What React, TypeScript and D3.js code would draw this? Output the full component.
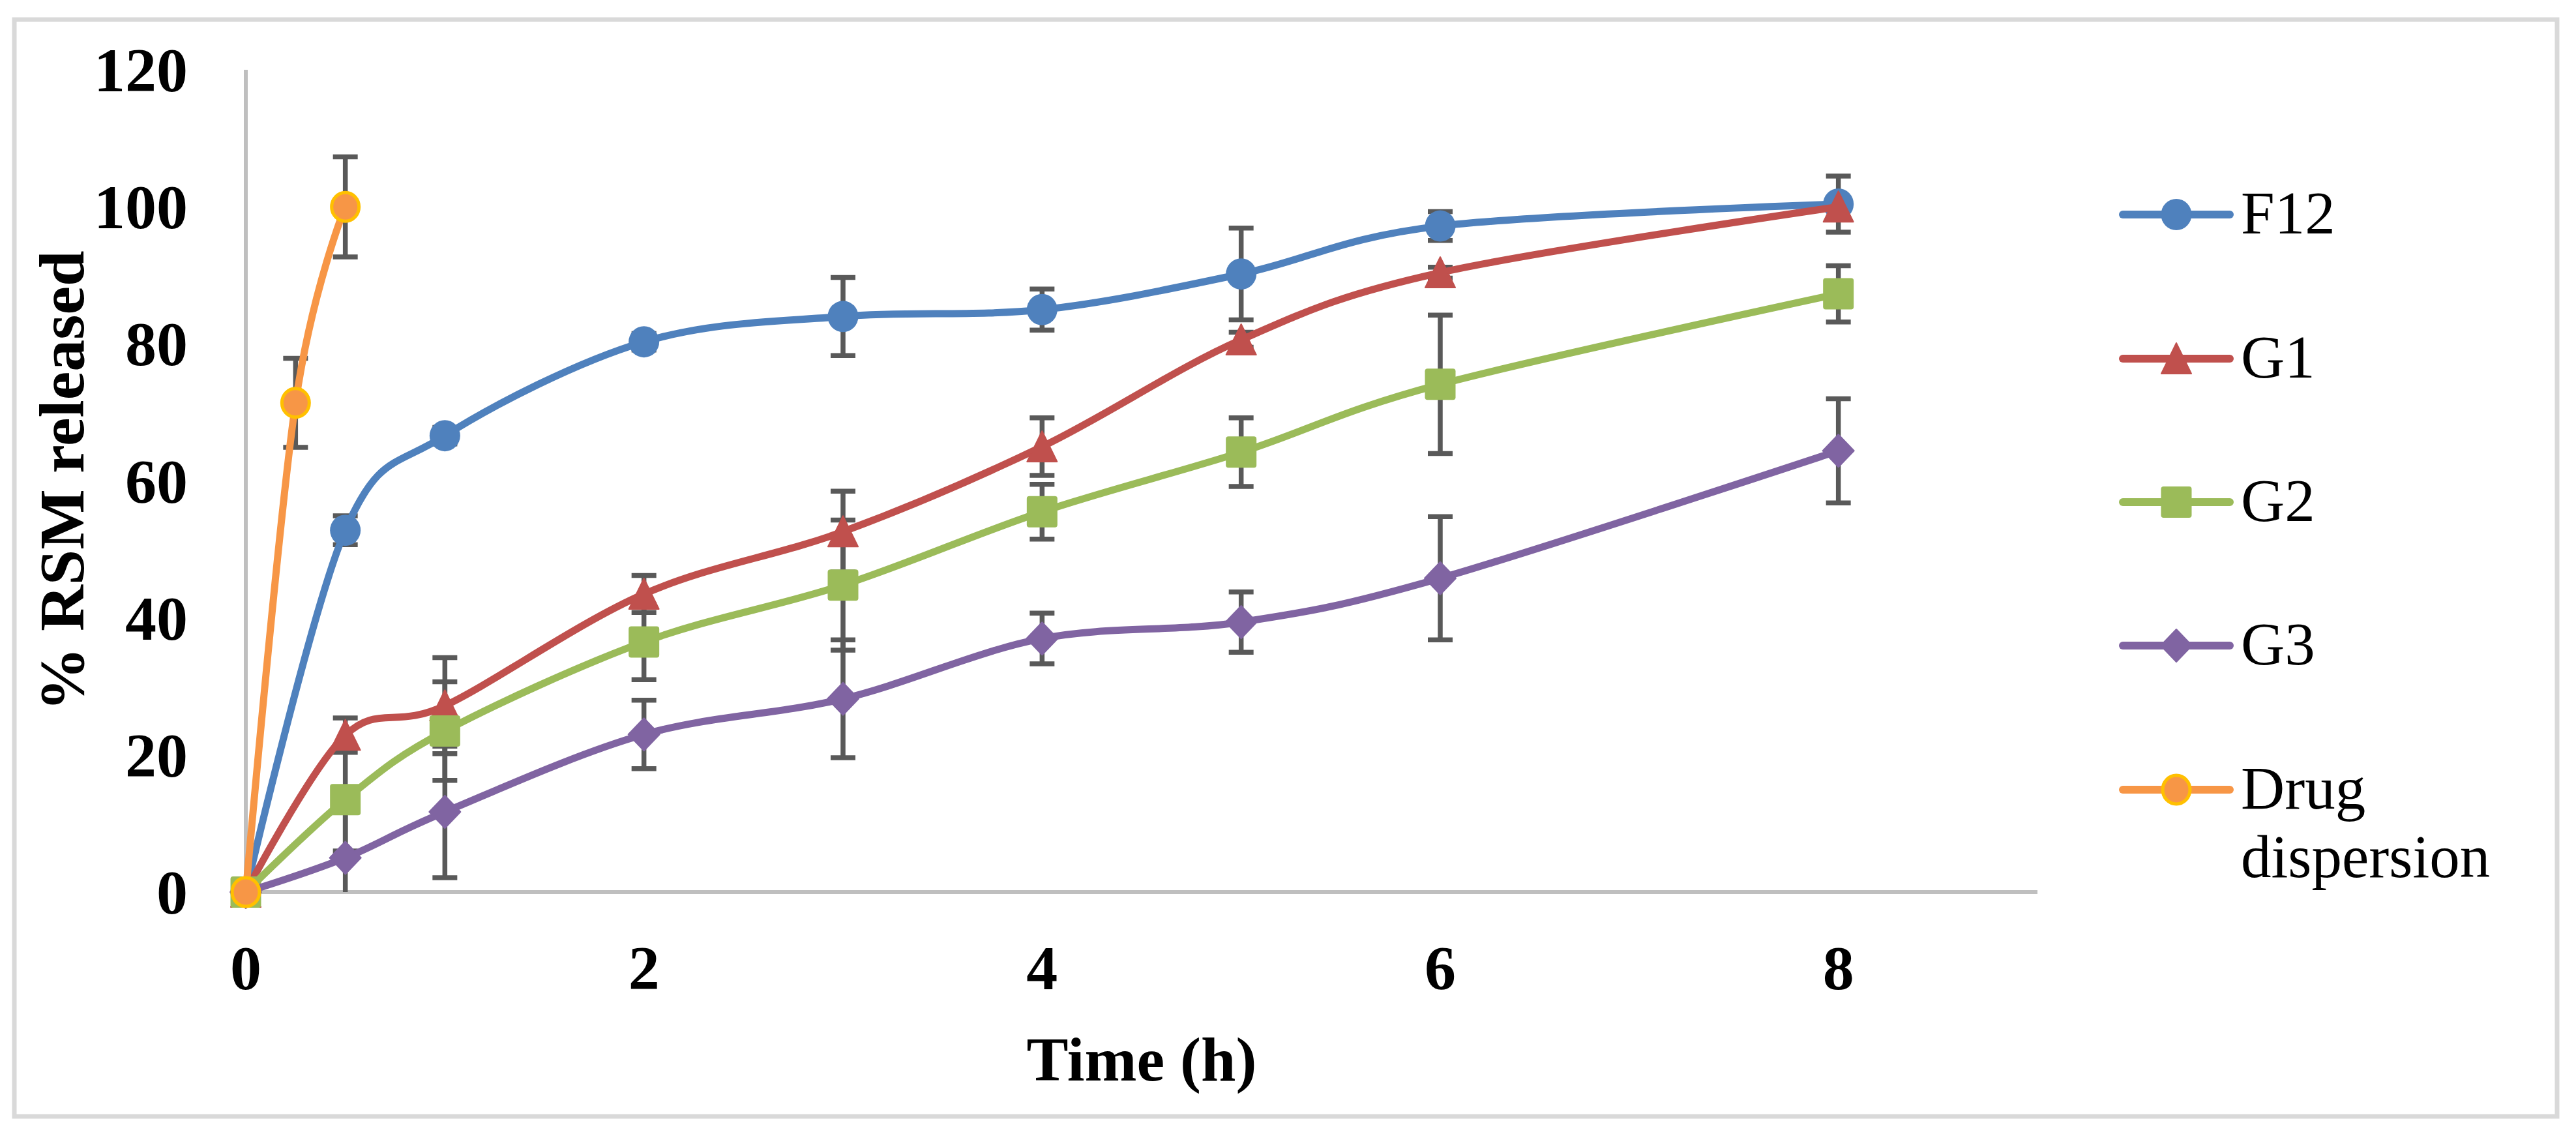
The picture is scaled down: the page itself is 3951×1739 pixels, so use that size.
import React, { useRef, useEffect } from 'react';
import * as d3 from 'd3';

// Time points (h)
const timeGel = [0, 0.5, 1, 2, 3, 4, 5, 6, 8];
const timeDrug = [0, 0.25, 0.5];

// % RSM released and SD per formulation
const f12 = [0, 52.8, 66.6, 80.3, 84.0, 85.0, 90.2, 97.2, 100.4];
const f12Err = [0, 2.1, 1.2, 1.2, 5.7, 3.0, 6.7, 2.1, 4.1];
const g1 = [0, 22.9, 27.2, 43.5, 52.6, 65.0, 80.6, 90.4, 100.0];
const g1Err = [0, 2.5, 7.0, 2.7, 5.9, 4.2, 1.1, 0.8, 0.5];
const g2 = [0, 13.5, 23.5, 36.5, 44.8, 55.5, 64.2, 74.1, 87.3];
const g2Err = [0, 7.5, 7.2, 5.5, 9.5, 4.0, 5.0, 10.1, 4.1];
const g3 = [0, 5.0, 11.7, 23.0, 28.2, 37.0, 39.4, 45.8, 64.4];
const g3Err = [0, 8.0, 9.6, 5.0, 8.6, 3.7, 4.4, 9.0, 7.6];
const drug = [0, 71.4, 100.0];
const drugErr = [0, 6.5, 7.3];

const xTicks = [0, 2, 4, 6, 8];
const yTicks = [0, 20, 40, 60, 80, 100, 120];

type Marker = 'circle' | 'triangle' | 'square' | 'diamond' | 'ring';

interface Series {
  name: string[];
  x: number[];
  y: number[];
  err: number[];
  color: string;
  marker: Marker;
}

const series: Series[] = [
  { name: ['F12'], x: timeGel, y: f12, err: f12Err, color: '#4F81BD', marker: 'circle' },
  { name: ['G1'], x: timeGel, y: g1, err: g1Err, color: '#C0504D', marker: 'triangle' },
  { name: ['G2'], x: timeGel, y: g2, err: g2Err, color: '#9BBB59', marker: 'square' },
  { name: ['G3'], x: timeGel, y: g3, err: g3Err, color: '#8064A2', marker: 'diamond' },
  { name: ['Drug', 'dispersion'], x: timeDrug, y: drug, err: drugErr, color: '#F79646', marker: 'ring' },
];

const W = 3951;
const H = 1739;
const FONT = '"Liberation Serif", "Times New Roman", serif';

function drawMarker(g: d3.Selection<SVGGElement, unknown, null, undefined>, type: Marker, color: string, cx: number, cy: number) {
  const m = g.append('g').attr('transform', `translate(${cx},${cy})`);
  if (type === 'circle') {
    m.append('ellipse').attr('rx', 23.5).attr('ry', 24).attr('fill', color);
  } else if (type === 'ring') {
    m.append('ellipse').attr('rx', 21).attr('ry', 22).attr('fill', color)
      .attr('stroke', '#FFC000').attr('stroke-width', 5);
  } else if (type === 'triangle') {
    m.append('path').attr('d', 'M0,-24L23,23L-23,23Z').attr('fill', color)
      .attr('stroke', color).attr('stroke-width', 2).attr('stroke-linejoin', 'round');
  } else if (type === 'square') {
    m.append('rect').attr('x', -23.5).attr('y', -24).attr('width', 47).attr('height', 48)
      .attr('rx', 4).attr('fill', color);
  } else {
    m.append('path').attr('d', 'M0,-25L24,0L0,25L-24,0Z').attr('fill', color)
      .attr('stroke', color).attr('stroke-width', 2).attr('stroke-linejoin', 'round');
  }
}

export default function App() {
  const svgRef = useRef<SVGSVGElement>(null);

  useEffect(() => {
    if (!svgRef.current) return;
    const svg = d3.select(svgRef.current);
    svg.selectAll('*').remove();

    const x = d3.scaleLinear().domain([0, 9]).range([377, 3125]);
    const y = d3.scaleLinear().domain([0, 120]).range([1368, 107]);

    svg.append('rect').attr('width', W).attr('height', H).attr('fill', '#fff');
    // chart border
    svg.append('rect')
      .attr('x', 22).attr('y', 30).attr('width', 3900).attr('height', 1682)
      .attr('fill', 'none').attr('stroke', '#D9D9D9').attr('stroke-width', 7);

    // axes
    svg.append('line')
      .attr('x1', x(0)).attr('x2', x(0)).attr('y1', y(120)).attr('y2', y(0))
      .attr('stroke', '#BFBFBF').attr('stroke-width', 6);
    svg.append('line')
      .attr('x1', x(0)).attr('x2', x(9)).attr('y1', y(0)).attr('y2', y(0))
      .attr('stroke', '#BFBFBF').attr('stroke-width', 6);

    // tick labels
    svg.append('g').selectAll('text')
      .data(yTicks).enter().append('text')
      .attr('x', 288).attr('y', d => y(d) + 33)
      .attr('text-anchor', 'end')
      .style('font-family', FONT).style('font-weight', 'bold').style('font-size', '96px')
      .text(d => d);
    svg.append('g').selectAll('text')
      .data(xTicks).enter().append('text')
      .attr('x', d => x(d)).attr('y', 1517)
      .attr('text-anchor', 'middle')
      .style('font-family', FONT).style('font-weight', 'bold').style('font-size', '96px')
      .text(d => d);

    // axis titles
    svg.append('text')
      .attr('x', (x(0) + x(9)) / 2).attr('y', 1657)
      .attr('text-anchor', 'middle')
      .style('font-family', FONT).style('font-weight', 'bold').style('font-size', '96px')
      .text('Time (h)');
    svg.append('text')
      .attr('transform', `translate(128,${(y(0) + y(120)) / 2}) rotate(-90)`)
      .attr('text-anchor', 'middle')
      .style('font-family', FONT).style('font-weight', 'bold').style('font-size', '98px')
      .text('% RSM released');

    // error bars (behind everything)
    const errG = svg.append('g');
    series.forEach(s => {
      s.x.forEach((t, i) => {
        const e = s.err[i];
        if (!e) return;
        const cx = x(t);
        const hi = s.y[i] + e;
        const lo = s.y[i] - e;
        const yHi = y(Math.min(hi, 120));
        const yLo = y(Math.max(lo, 0));
        errG.append('line').attr('x1', cx).attr('x2', cx).attr('y1', yHi).attr('y2', yLo)
          .attr('stroke', '#595959').attr('stroke-width', 7.5);
        if (hi <= 120) {
          errG.append('line').attr('x1', cx - 19).attr('x2', cx + 19).attr('y1', yHi).attr('y2', yHi)
            .attr('stroke', '#595959').attr('stroke-width', 7.5);
        }
        if (lo >= 0) {
          errG.append('line').attr('x1', cx - 19).attr('x2', cx + 19).attr('y1', yLo).attr('y2', yLo)
            .attr('stroke', '#595959').attr('stroke-width', 7.5);
        }
      });
    });

    // smoothed lines + markers
    const line = d3.line<[number, number]>()
      .x(d => x(d[0]))
      .y(d => y(d[1]))
      .curve(d3.curveCardinal.tension(0));

    series.forEach(s => {
      const pts = s.x.map((t, i) => [t, s.y[i]] as [number, number]);
      svg.append('path')
        .attr('d', line(pts))
        .attr('fill', 'none')
        .attr('stroke', s.color)
        .attr('stroke-width', 11)
        .attr('stroke-linecap', 'round')
        .attr('stroke-linejoin', 'round');
      const mg = svg.append('g');
      pts.forEach(p => drawMarker(mg, s.marker, s.color, x(p[0]), y(p[1])));
    });

    // legend
    const legendY = [329, 550, 770, 990, 1211];
    const lg = svg.append('g');
    series.forEach((s, i) => {
      const cy = legendY[i];
      lg.append('line')
        .attr('x1', 3256).attr('x2', 3420).attr('y1', cy).attr('y2', cy)
        .attr('stroke', s.color).attr('stroke-width', 12).attr('stroke-linecap', 'round');
      drawMarker(lg, s.marker, s.color, 3338, cy);
      const txt = lg.append('text')
        .attr('x', 3437).attr('y', cy + 29)
        .style('font-family', FONT).style('font-size', '93px');
      s.name.forEach((n, k) => {
        txt.append('tspan').attr('x', 3437).attr('dy', k === 0 ? 0 : 105).text(n);
      });
    });
  }, []);

  return (
    <svg
      ref={svgRef}
      width={W}
      height={H}
      viewBox={`0 0 ${W} ${H}`}
      style={{ position: 'absolute', left: 0, top: 0, display: 'block' }}
    />
  );
}
